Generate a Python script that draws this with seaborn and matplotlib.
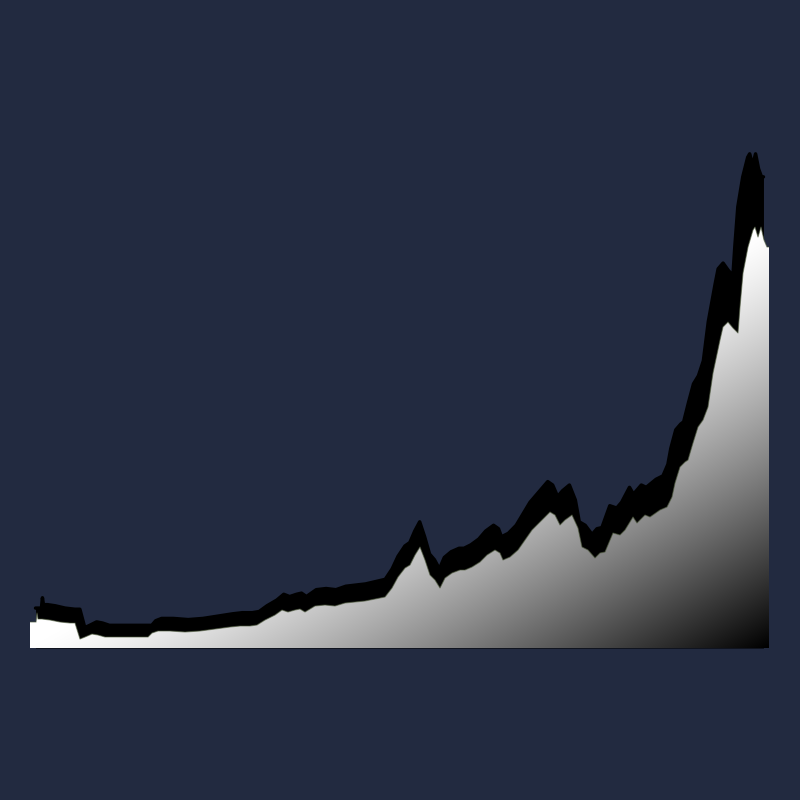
import numpy as np
import pandas as pd
import seaborn as sns
import matplotlib.pyplot as plt
from matplotlib.patches import Polygon

# time position of each sample and the value at that time
period = [0, 6, 7, 8, 12, 20, 30, 40, 45, 50, 55, 62, 68, 75, 90, 105, 118, 122,
          128, 140, 155, 170, 185, 200, 210, 220, 227, 235, 245, 252, 258, 265,
          270, 275, 285, 295, 305, 315, 325, 335, 345, 355, 362, 368, 375, 380,
          385, 390, 395, 400, 405, 410, 415, 422, 430, 435, 442, 450, 457, 465,
          470, 473, 480, 488, 495, 502, 510, 515, 520, 525, 530, 535, 542, 548,
          552, 558, 565, 570, 575, 583, 590, 595, 603, 607, 615, 620, 630, 637,
          642, 645, 650, 655, 658, 663, 668, 673, 678, 683, 690, 693, 698, 703,
          708, 710, 713, 718, 723, 725, 728, 731, 734, 737, 739]
value = [26, 26, 35, 29, 29, 28, 26, 25, 25, 9, 11, 14, 13, 11, 11, 11, 11, 15,
         17, 17, 16, 17, 19, 21, 22, 22, 23, 28, 33, 38, 36, 38,
         39, 36, 42, 43, 42, 45, 46, 47, 49, 51, 60, 71, 80, 83,
         93, 101, 88, 73, 68, 60, 70, 75, 78, 78, 81, 86, 93, 98,
         95, 88, 91, 98, 108, 118, 126, 131, 136, 133, 123, 128, 133, 120,
         101, 98, 90, 95, 96, 115, 113, 118, 131, 125, 133, 131, 138, 141,
         151, 165, 181, 186, 188, 205, 221, 228, 241, 275, 308, 321, 326, 320,
         315, 341, 375, 401, 418, 421, 411, 421, 408, 401, 401]

df = pd.DataFrame({"period": period, "value": value})
x = df["period"].to_numpy(float)
y = df["value"].to_numpy(float)
x_max, y_max = x.max(), y.max()

bg = "#222a40"
sns.set_theme(style="white")

fig = plt.figure(figsize=(8, 8), dpi=100, facecolor=bg)
ax = fig.add_axes([30 / 800, 152 / 800, 739 / 800, 648 / 800])
ax.set_facecolor(bg)

# black shadow behind the area, stretched upward
cx = x_max / 2
xs = cx + (x - cx) * 0.985
ys = y * 1.15 + 10
ax.fill_between(xs, 0, ys, color="black", lw=0, zorder=1)
ax.plot(xs, ys, color="black", lw=2.5, solid_joinstyle="round", zorder=1)

# diagonal gradient: white towards the top-left, black at the bottom-right
n = 400
u = np.linspace(0, 1, n)[None, :]
v = np.linspace(0, 1, n)[:, None]  # 0 at top row, 1 at baseline
dark = np.clip(u + v - 1, 0, 1) ** 1.25
shade = 1 - dark
img = np.dstack([shade, shade, shade])
im = ax.imshow(img, extent=(0, x_max, 0, y_max), origin="upper",
               aspect="auto", interpolation="bilinear", zorder=2)
verts = np.column_stack([np.r_[x[0], x, x[-1]], np.r_[0, y, 0]])
area = Polygon(verts, closed=True, facecolor="none", edgecolor="none")
ax.add_patch(area)
im.set_clip_path(area)

sns.lineplot(data=df, x="period", y="value", ax=ax, color="#4d5a3c",
             lw=0.8, alpha=0.6, zorder=3)
ax.set_xlim(0, x_max)
ax.set_ylim(0, 648)
ax.set_axis_off()

fig.savefig("out.png", dpi=100, facecolor=bg)
